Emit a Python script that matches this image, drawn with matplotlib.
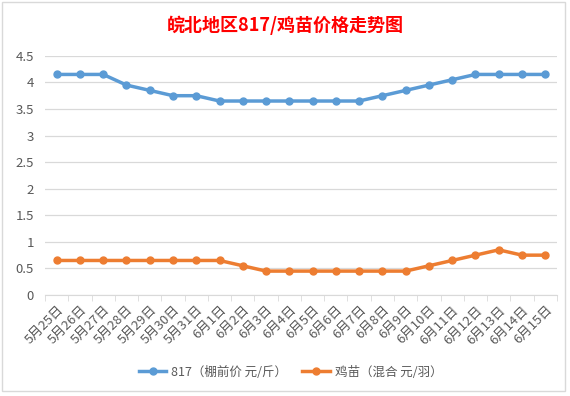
import matplotlib
matplotlib.use("Agg")
import matplotlib.pyplot as plt
from matplotlib.patches import Rectangle

plt.rcParams['font.family'] = ['Noto Sans CJK SC', 'DejaVu Sans']

# dates 5/25 .. 6/15
dates = ["5月%d日" % d for d in range(25, 32)] + ["6月%d日" % d for d in range(1, 16)]
price_817 = [4.15, 4.15, 4.15, 3.95, 3.85, 3.75, 3.75, 3.65, 3.65, 3.65, 3.65,
             3.65, 3.65, 3.65, 3.75, 3.85, 3.95, 4.05, 4.15, 4.15, 4.15, 4.15]
price_chick = [0.65, 0.65, 0.65, 0.65, 0.65, 0.65, 0.65, 0.65, 0.55, 0.45, 0.45,
               0.45, 0.45, 0.45, 0.45, 0.45, 0.55, 0.65, 0.75, 0.85, 0.75, 0.75]
yticks = [0, 0.5, 1, 1.5, 2, 2.5, 3, 3.5, 4, 4.5]
ylabels = ["0", "0.5", "1", "1.5", "2", "2.5", "3", "3.5", "4", "4.5"]

blue = "#5b9bd5"
orange = "#ed7d31"
grey = "#595959"

fig = plt.figure(figsize=(5.7, 3.96), dpi=100)
fig.patches.append(Rectangle((0.004, 0.012), 0.988, 0.982, transform=fig.transFigure,
                             fill=False, edgecolor="#d9d9d9", linewidth=1))

ax = fig.add_axes([0.079, 0.255, 0.898, 0.604])
x = list(range(len(dates)))
ax.plot(x, price_817, color=blue, linewidth=2.5, marker="o", markersize=5,
        label="817（棚前价 元/斤）")
ax.plot(x, price_chick, color=orange, linewidth=2.5, marker="o", markersize=5,
        label="鸡苗（混合 元/羽）")

ax.set_xlim(-0.5, len(dates) - 0.5)
ax.set_ylim(0, 4.5)
ax.set_yticks(yticks)
ax.set_yticklabels(ylabels)
ax.grid(axis="y", color="#d9d9d9", linewidth=0.9)
ax.set_axisbelow(True)

ax.set_xticks(x)
ax.set_xticklabels(dates, rotation=45, ha="right", rotation_mode="anchor")
ax.set_xticks([i - 0.5 for i in range(len(dates) + 1)], minor=True)
ax.tick_params(axis="x", which="major", length=0, pad=6, labelsize=9.5, colors=grey)
ax.tick_params(axis="x", which="minor", length=4, color="#d9d9d9", direction="out")
ax.tick_params(axis="y", length=0, labelsize=9.5, colors=grey, pad=8)

for s in ["top", "right", "left"]:
    ax.spines[s].set_visible(False)
ax.spines["bottom"].set_color("#d9d9d9")

fig.text(0.5, 0.935, "皖北地区817/鸡苗价格走势图", ha="center", va="center",
         color="red", fontsize=13, fontweight="bold")

fig.legend(loc="center", bbox_to_anchor=(0.51, 0.06), ncol=2, frameon=False,
           fontsize=9, labelcolor=grey, handlelength=2.2, handletextpad=0.4,
           columnspacing=1.2)

fig.savefig("out.png", dpi=100)
